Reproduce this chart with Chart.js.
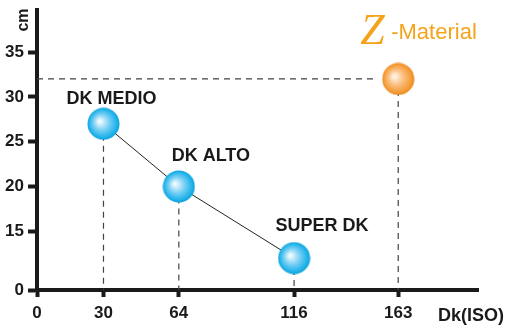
<!DOCTYPE html>
<html>
<head>
<meta charset="utf-8">
<script src="https://cdn.jsdelivr.net/npm/chart.js@4.4.0/dist/chart.umd.min.js"></script>
<style>
  html, body { margin: 0; padding: 0; background: #fff; }
  #wrap { width: 506px; height: 327px; }
</style>
</head>
<body>
<div id="wrap"><canvas id="c"></canvas></div>
<script>
// lenses (blue balls)
const lensNames = ['DK MEDIO', 'DK ALTO', 'SUPER DK'];
const lensDk = [30, 64, 116];
const lensCm = [27, 20, 12];
// Z-Material (orange ball)
const zDk = 163;
const zCm = 32;
// axis ticks
const xTicks = [0, 30, 64, 116, 163];
const yTicks = [15, 20, 25, 30, 35];
const yBreak = 8.44; // the y axis is broken, its "0" sits here

const FONT = '"Liberation Sans", Arial, sans-serif';
const INK = '#1a1a1a';
const ORANGE = '#f6a31c';

function ball(c0, c1, c2, c3) {
  const d = 33;
  const cv = document.createElement('canvas');
  cv.width = cv.height = d;
  const g = cv.getContext('2d');
  const grad = g.createRadialGradient(d * 0.38, d * 0.42, 1, d / 2, d / 2, d / 2);
  grad.addColorStop(0, c0);
  grad.addColorStop(0.45, c1);
  grad.addColorStop(0.85, c2);
  grad.addColorStop(1, c3);
  g.fillStyle = grad;
  g.beginPath();
  g.arc(d / 2, d / 2, d / 2 - 0.5, 0, Math.PI * 2);
  g.fill();
  return cv;
}
const blueBall = ball('#f2fbff', '#79d0f4', '#1cb2ea', '#0c9ad4');
const orangeBall = ball('#fff3e6', '#fbbd7c', '#f59a33', '#e57f12');

const lensPts = lensDk.map((x, i) => ({ x: x, y: lensCm[i] }));

const dashed = (data) => ({
  data: data,
  showLine: true,
  borderColor: '#444',
  borderWidth: 1.2,
  borderDash: [6, 5],
  pointRadius: 0,
  order: 3
});

const decor = {
  id: 'decor',
  afterDatasetsDraw(chart) {
    const ctx = chart.ctx;
    ctx.save();
    ctx.fillStyle = INK;
    ctx.textBaseline = 'alphabetic';
    ctx.textAlign = 'center';
    ctx.font = 'bold 18px ' + FONT;
    const offs = [[8, -20], [32, -25], [28, -27]];
    chart.getDatasetMeta(0).data.forEach((p, i) => {
      ctx.fillText(lensNames[i], p.x + offs[i][0], p.y + offs[i][1]);
    });

    // Z-Material tag above the orange ball
    const z = chart.getDatasetMeta(1).data[0];
    ctx.fillStyle = ORANGE;
    ctx.textAlign = 'left';
    ctx.font = 'italic 44px "Liberation Serif", serif';
    ctx.fillText('Z', z.x - 38, z.y - 35);
    ctx.font = '22px ' + FONT;
    ctx.fillText('-Material', z.x - 7, z.y - 40);

    // axis names
    ctx.fillStyle = INK;
    ctx.font = 'bold 18px ' + FONT;
    ctx.fillText('Dk(ISO)', 438, chart.height - 6);
    ctx.translate(28, 20);
    ctx.rotate(-Math.PI / 2);
    ctx.textAlign = 'center';
    ctx.font = 'bold 16px ' + FONT;
    ctx.fillText('cm', 0, 0);
    ctx.restore();
  }
};

new Chart(document.getElementById('c'), {
  type: 'scatter',
  data: {
    datasets: [
      { data: lensPts, pointStyle: blueBall, pointRadius: 16, order: 0 },
      { data: [{ x: zDk, y: zCm }], pointStyle: orangeBall, pointRadius: 16, order: 0 },
      { data: lensPts, showLine: true, borderColor: '#222', borderWidth: 1, pointRadius: 0, order: 2 },
      ...lensPts.concat([{ x: zDk, y: zCm }]).map(p => dashed([p, { x: p.x, y: yBreak }])),
      dashed([{ x: 0, y: zCm }, { x: 152, y: zCm }])
    ]
  },
  options: {
    responsive: true,
    maintainAspectRatio: false,
    animation: false,
    events: [],
    layout: { autoPadding: false, padding: { top: 10, right: 28, left: 0, bottom: 0 } },
    plugins: { legend: { display: false }, tooltip: { enabled: false } },
    scales: {
      x: {
        type: 'linear',
        min: 0,
        max: 199,
        afterBuildTicks: s => { s.ticks = xTicks.map(v => ({ value: v })); },
        afterFit: s => { s.height = 37; s.paddingLeft = 0; s.paddingRight = 0; },
        ticks: {
          autoSkip: false,
          maxRotation: 0,
          padding: 6,
          color: INK,
          font: { family: FONT, size: 17, weight: 'bold' }
        },
        grid: { drawOnChartArea: false, tickLength: 7, tickWidth: 4, tickColor: INK },
        border: { width: 4, color: INK }
      },
      y: {
        min: yBreak,
        max: 39.7,
        afterBuildTicks: s => { s.ticks = [yBreak].concat(yTicks).map(v => ({ value: v })); },
        afterFit: s => { s.width = 37; s.paddingTop = 0; s.paddingBottom = 0; },
        ticks: {
          autoSkip: false,
          padding: 4,
          color: INK,
          font: { family: FONT, size: 17, weight: 'bold' },
          callback: v => (v === yBreak ? '0' : v)
        },
        grid: { drawOnChartArea: false, tickLength: 9, tickWidth: 4, tickColor: INK },
        border: { width: 4, color: INK }
      }
    }
  },
  plugins: [decor]
});
</script>
</body>
</html>
